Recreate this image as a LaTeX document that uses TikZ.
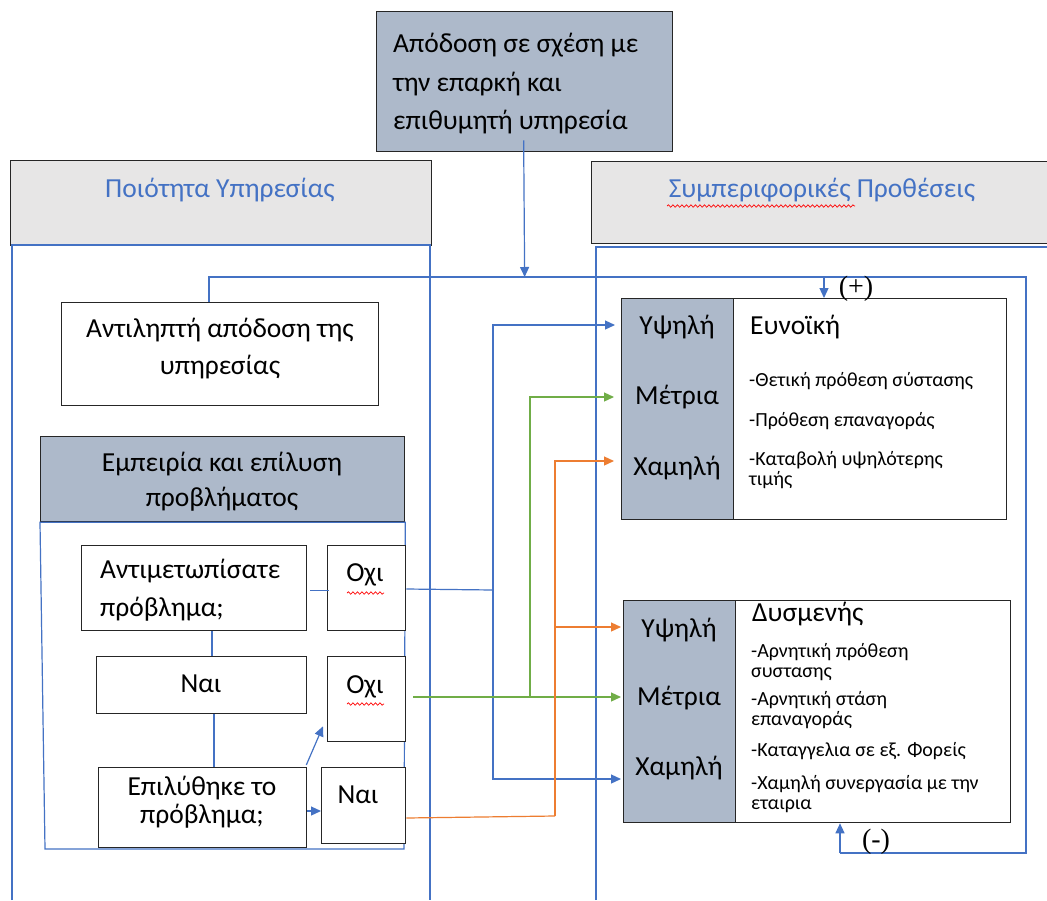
\documentclass[tikz,border=0pt]{standalone}
\usepackage{fontspec}
\setmainfont{Carlito}
\newfontfamily\serifpm{Liberation Serif}
\usetikzlibrary{arrows.meta,calc,decorations.pathmorphing}
\definecolor{slate}{HTML}{ADB9CA}
\definecolor{lgray}{HTML}{E7E6E6}
\definecolor{mblue}{HTML}{4472C4}
\definecolor{mgreen}{HTML}{70AD47}
\definecolor{morange}{HTML}{ED7D31}
\definecolor{edgec}{HTML}{262626}
\tikzset{
  bx/.style={draw=edgec, line width=1.3pt, anchor=north west, inner sep=0pt},
  big/.style={font=\fontsize{27.5}{38}\selectfont, text=black, inner sep=0pt},
  small/.style={font=\fontsize{20}{20.5}\selectfont, text=black, align=left, anchor=west, inner sep=0pt},
  bl/.style={draw=mblue, line width=1.2pt},
  gr/.style={draw=mgreen, line width=1.2pt},
  orc/.style={draw=morange, line width=1.2pt},
  arr/.style={-{Triangle[length=10pt,width=9pt]}},
  squig/.style={draw=red, line width=0.7pt, decorate, decoration={snake, amplitude=1.2pt, segment length=4.5pt}},
}
\begin{document}
\begin{tikzpicture}[x=1pt,y=-1pt]
\useasboundingbox[fill=white] (0,0) rectangle (1047,900);

% top box
\node[bx, fill=slate, minimum width=296pt, minimum height=140pt] (perf) at (376,11) {};
\node[big, align=left, anchor=west, font=\fontsize{27.5}{38.5}\selectfont] (perft) at (393,84) {Απόδοση σε σχέση με\\την επαρκή και\\επιθυμητή υπηρεσία};

% headers
\node[bx, fill=lgray, minimum width=421pt, minimum height=85pt] (hdrL) at (10,160) {};
\node[big, text=mblue] (hdrLt) at (220,190) {Ποιότητα Υπηρεσίας};
\node[bx, fill=lgray, minimum width=470pt, minimum height=82pt] (hdrR) at (591,161) {};
\node[big, text=mblue] (hdrRt) at (822,190) {Συμπεριφορικές Προθέσεις};
\draw[squig] (667,206) -- (855,206);

% panels
\draw[bl] (12,900) -- (12,245) -- (430,245) -- (430,900);
\draw[bl] (596,900) -- (596,247) -- (1047,247);

% left boxes
\node[bx, fill=white, minimum width=317pt, minimum height=103pt] (perc) at (61,302) {};
\node[big, align=center, font=\fontsize{27.5}{37}\selectfont] (perct) at (220,349) {Αντιληπτή απόδοση της\\υπηρεσίας};

\node[bx, fill=slate, minimum width=364pt, minimum height=85pt] (exp) at (40,436) {};
\node[big, align=center, font=\fontsize{27.5}{35}\selectfont] (expt) at (222,482) {Εμπειρία και επίλυση\\προβλήματος};
\draw[bl] (exp.south west) -- (45,849) -- (404,849) -- (exp.south east) -- cycle;

\node[bx, fill=white, minimum width=225pt, minimum height=85pt] (q1) at (81,545) {};
\node[big, align=left, anchor=west] (q1t) at (100,590) {Αντιμετωπίσατε\\πρόβλημα;};
\node[bx, fill=white, minimum width=78pt, minimum height=85pt] (ochi1) at (327,545) {};
\node[big] (ochi1t) at (365,575) {Οχι};
\draw[squig] (347,593) -- (384,593);

\node[bx, fill=white, minimum width=210pt, minimum height=57pt] (nai1) at (96,656) {};
\node[big] (nai1t) at (201,684) {Ναι};
\node[bx, fill=white, minimum width=78pt, minimum height=85pt] (ochi2) at (327,656) {};
\node[big] (ochi2t) at (365,687) {Οχι};
\draw[squig] (347,704) -- (384,704);

\node[bx, fill=white, minimum width=208pt, minimum height=80pt] (q2) at (98,767) {};
\node[big, align=center, font=\fontsize{27.5}{28}\selectfont] (q2t) at (202,802) {Επιλύθηκε το\\πρόβλημα;};
\node[bx, fill=white, minimum width=84pt, minimum height=76pt] (nai2) at (321,767) {};
\node[big] (nai2t) at (358,795) {Ναι};

% left connectors
\draw[bl] (q1.east) ++(3,2) -- ($(ochi1.west)+(2,2)$);
\draw[bl] (q1.south -| 212,0) -- (nai1.north -| 212,0);
\draw[bl] (nai1.south -| 214,0) -- (q2.north -| 214,0);
\draw[bl, arr] ($(q2.north east)+(-1,-2)$) -- ($(ochi2.south west)+(-4,-16)$);
\draw[bl, arr] (q2.east |- 0,811) -- (nai2.west |- 0,811);

% right boxes
\node[bx, fill=white, minimum width=385pt, minimum height=221pt] (pos) at (621,298) {};
\node[bx, fill=slate, minimum width=112pt, minimum height=221pt] (posc) at (621,298) {};
\node[big] (hi1) at (677,327) {Υψηλή};
\node[big] (mid1) at (677,397) {Μέτρια};
\node[big] (lo1) at (677,468) {Χαμηλή};
\node[big, anchor=west] (post) at (750,327) {Ευνοϊκή};
\node[small] (p1) at (749,381) {-Θετική πρόθεση σύστασης};
\node[small] (p2) at (749,421) {-Πρόθεση επαναγοράς};
\node[small] (p3) at (749,470) {-Καταβολή υψηλότερης\\τιμής};

\node[bx, fill=white, minimum width=387pt, minimum height=222pt] (neg) at (623,600) {};
\node[bx, fill=slate, minimum width=112pt, minimum height=222pt] (negc) at (623,600) {};
\node[big] (hi2) at (679,630) {Υψηλή};
\node[big] (mid2) at (679,698) {Μέτρια};
\node[big] (lo2) at (679,768) {Χαμηλή};
\node[big, anchor=west] (negt) at (752,614) {Δυσμενής};
\node[small] (n1) at (751,662) {-Αρνητική πρόθεση\\συστασης};
\node[small] (n2) at (751,710) {-Αρνητική στάση\\επαναγοράς};
\node[small] (n3) at (751,751) {-Καταγγελια σε εξ. Φορείς};
\node[small] (n4) at (751,794) {-Χαμηλή συνεργασία με την\\εταιρια};

% feedback loop
\coordinate (fbL) at (209,277);
\coordinate (fbR) at (1026,277);
\coordinate (fbBR) at (1026,853);
\coordinate (fbBL) at (840,853);
\coordinate (plusT) at (824,277);
\draw[bl] (perc.north -| fbL) -- (fbL) -- (fbR) -- (fbBR) -- (fbBL);
\draw[bl, arr] (fbBL) -- (neg.south -| fbBL);
\draw[bl, arr] (plusT) -- (pos.north -| plusT);
\draw[bl, arr] ($(perf.south)+(-1,-12)$) -- (perf.south |- fbL);
\node[font=\serifpm\fontsize{28}{28}\selectfont, inner sep=0pt] (plus) at (856,289) {(+)};
\node[font=\serifpm\fontsize{28}{28}\selectfont, inner sep=0pt] (minus) at (876,842) {(-)};

% right connectors
\coordinate (jB1) at (493,325);
\coordinate (jB2) at (493,779);
\draw[bl] (ochi1.east |- 0,589) -- (jB1 |- 0,590);
\draw[bl, arr, shorten >=6pt] (jB2) -- (jB1) -- (jB1 -| pos.west);
\draw[bl, arr, shorten >=2pt] (jB1 |- 0,600) -- (jB2) -- (jB2 -| neg.west);

\coordinate (jG1) at (530,397);
\coordinate (jG2) at (530,697);
\draw[gr, arr, shorten >=2pt] ($(ochi2.east |- jG2)+(7,0)$) -- (jG2 -| neg.west);
\draw[gr, arr, shorten >=7pt] (jG2) -- (jG1) -- (jG1 -| pos.west);

\coordinate (jO1) at (555,461);
\coordinate (jO2) at (555,627);
\coordinate (jO3) at (555,816);
\draw[orc] (nai2.east |- 0,818) -- (jO3);
\draw[orc, arr, shorten >=7pt] (jO3) -- (jO1) -- (jO1 -| pos.west);
\draw[orc, arr, shorten >=2pt] (jO2) -- (jO2 -| neg.west);
\end{tikzpicture}
\end{document}
